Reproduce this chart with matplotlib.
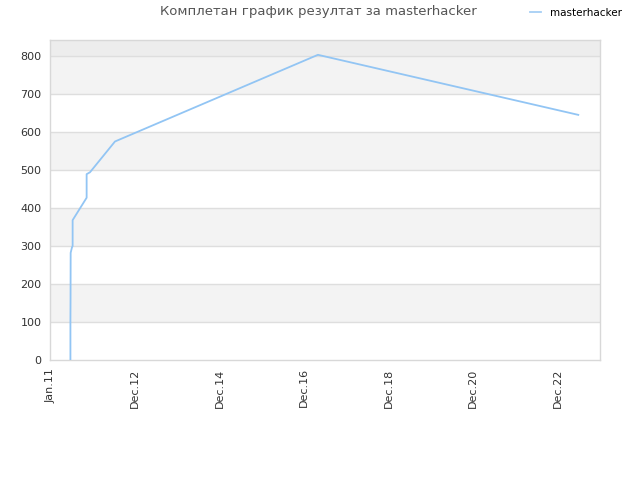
import matplotlib
matplotlib.use("Agg")
import matplotlib.pyplot as plt
import matplotlib.dates as mdates
import numpy as np
from datetime import datetime, timedelta

# Data
dates = ["2011-06-23", "2011-06-23", "2011-06-24", "2011-06-25", "2011-07-06",
         "2011-07-12", "2011-07-12", "2011-11-10", "2011-11-10", "2011-12-09",
         "2012-07-12", "2017-04-30", "2023-06-27"]
values = [0, 105, 162, 282, 296, 300, 368, 427, 489, 494, 575, 803, 645]
series_name = "masterhacker"
title = "Комплетан график резултат за masterhacker"
tick_start = "2011-01-01"
tick_step_days = 730
n_ticks = 7
tick_labels = ["Jan.11", "Dec.12", "Dec.14", "Dec.16", "Dec.18", "Dec.20", "Dec.22"]
y_ticks = [0, 100, 200, 300, 400, 500, 600, 700, 800]

plt.rcParams['font.family'] = ['DejaVu Sans']

fig = plt.figure(figsize=(6.4, 4.8), dpi=100)
ax = fig.add_axes([50/640, 1-360/480, 550/640, 320/480])

x = [datetime.strptime(d, "%Y-%m-%d") for d in dates]
t0 = datetime.strptime(tick_start, "%Y-%m-%d")
ticks = [t0 + timedelta(days=tick_step_days*i) for i in range(n_ticks)]

ymax = 842
# background bands
for i, lo in enumerate(range(0, 800, 100)):
    if i % 2 == 1:
        ax.axhspan(lo, lo+100, color="#f3f3f3", zorder=0, lw=0)
ax.axhspan(800, ymax, color="#ededed", zorder=0, lw=0)
for yv in y_ticks[1:]:
    ax.axhline(yv, color="#dedede", lw=1, zorder=1)

ax.plot(x, values, color="#92c5f4", lw=1.3, zorder=3, label=series_name)

ax.set_ylim(0, ymax)
xmin = t0
xmax = t0 + timedelta(days=(550)*8.632)
ax.set_xlim(mdates.date2num(xmin) - 0.4*8.632, mdates.date2num(xmax))
ax.set_xticks([mdates.date2num(t) for t in ticks])
ax.set_xticklabels(tick_labels, rotation=90)
ax.set_yticks(y_ticks)
ax.tick_params(axis="both", length=0, labelsize=8, colors="#333333", pad=6)
ax.tick_params(axis="x", pad=6)
for s in ax.spines.values():
    s.set_color("#d8d8d8")
    s.set_linewidth(1)

fig.text(318/640, 1-12/480, title, ha="center", va="center", fontsize=9.5, color="#555555")
leg = fig.legend(loc="center left", bbox_to_anchor=(530/640, 1-13/480), frameon=False,
                 fontsize=7.5, handlelength=1.1, handletextpad=0.8, borderaxespad=0,
                 borderpad=0)
for h in leg.get_lines():
    h.set_color("#a6cff5")

fig.savefig("out.png", dpi=100, facecolor="white")
